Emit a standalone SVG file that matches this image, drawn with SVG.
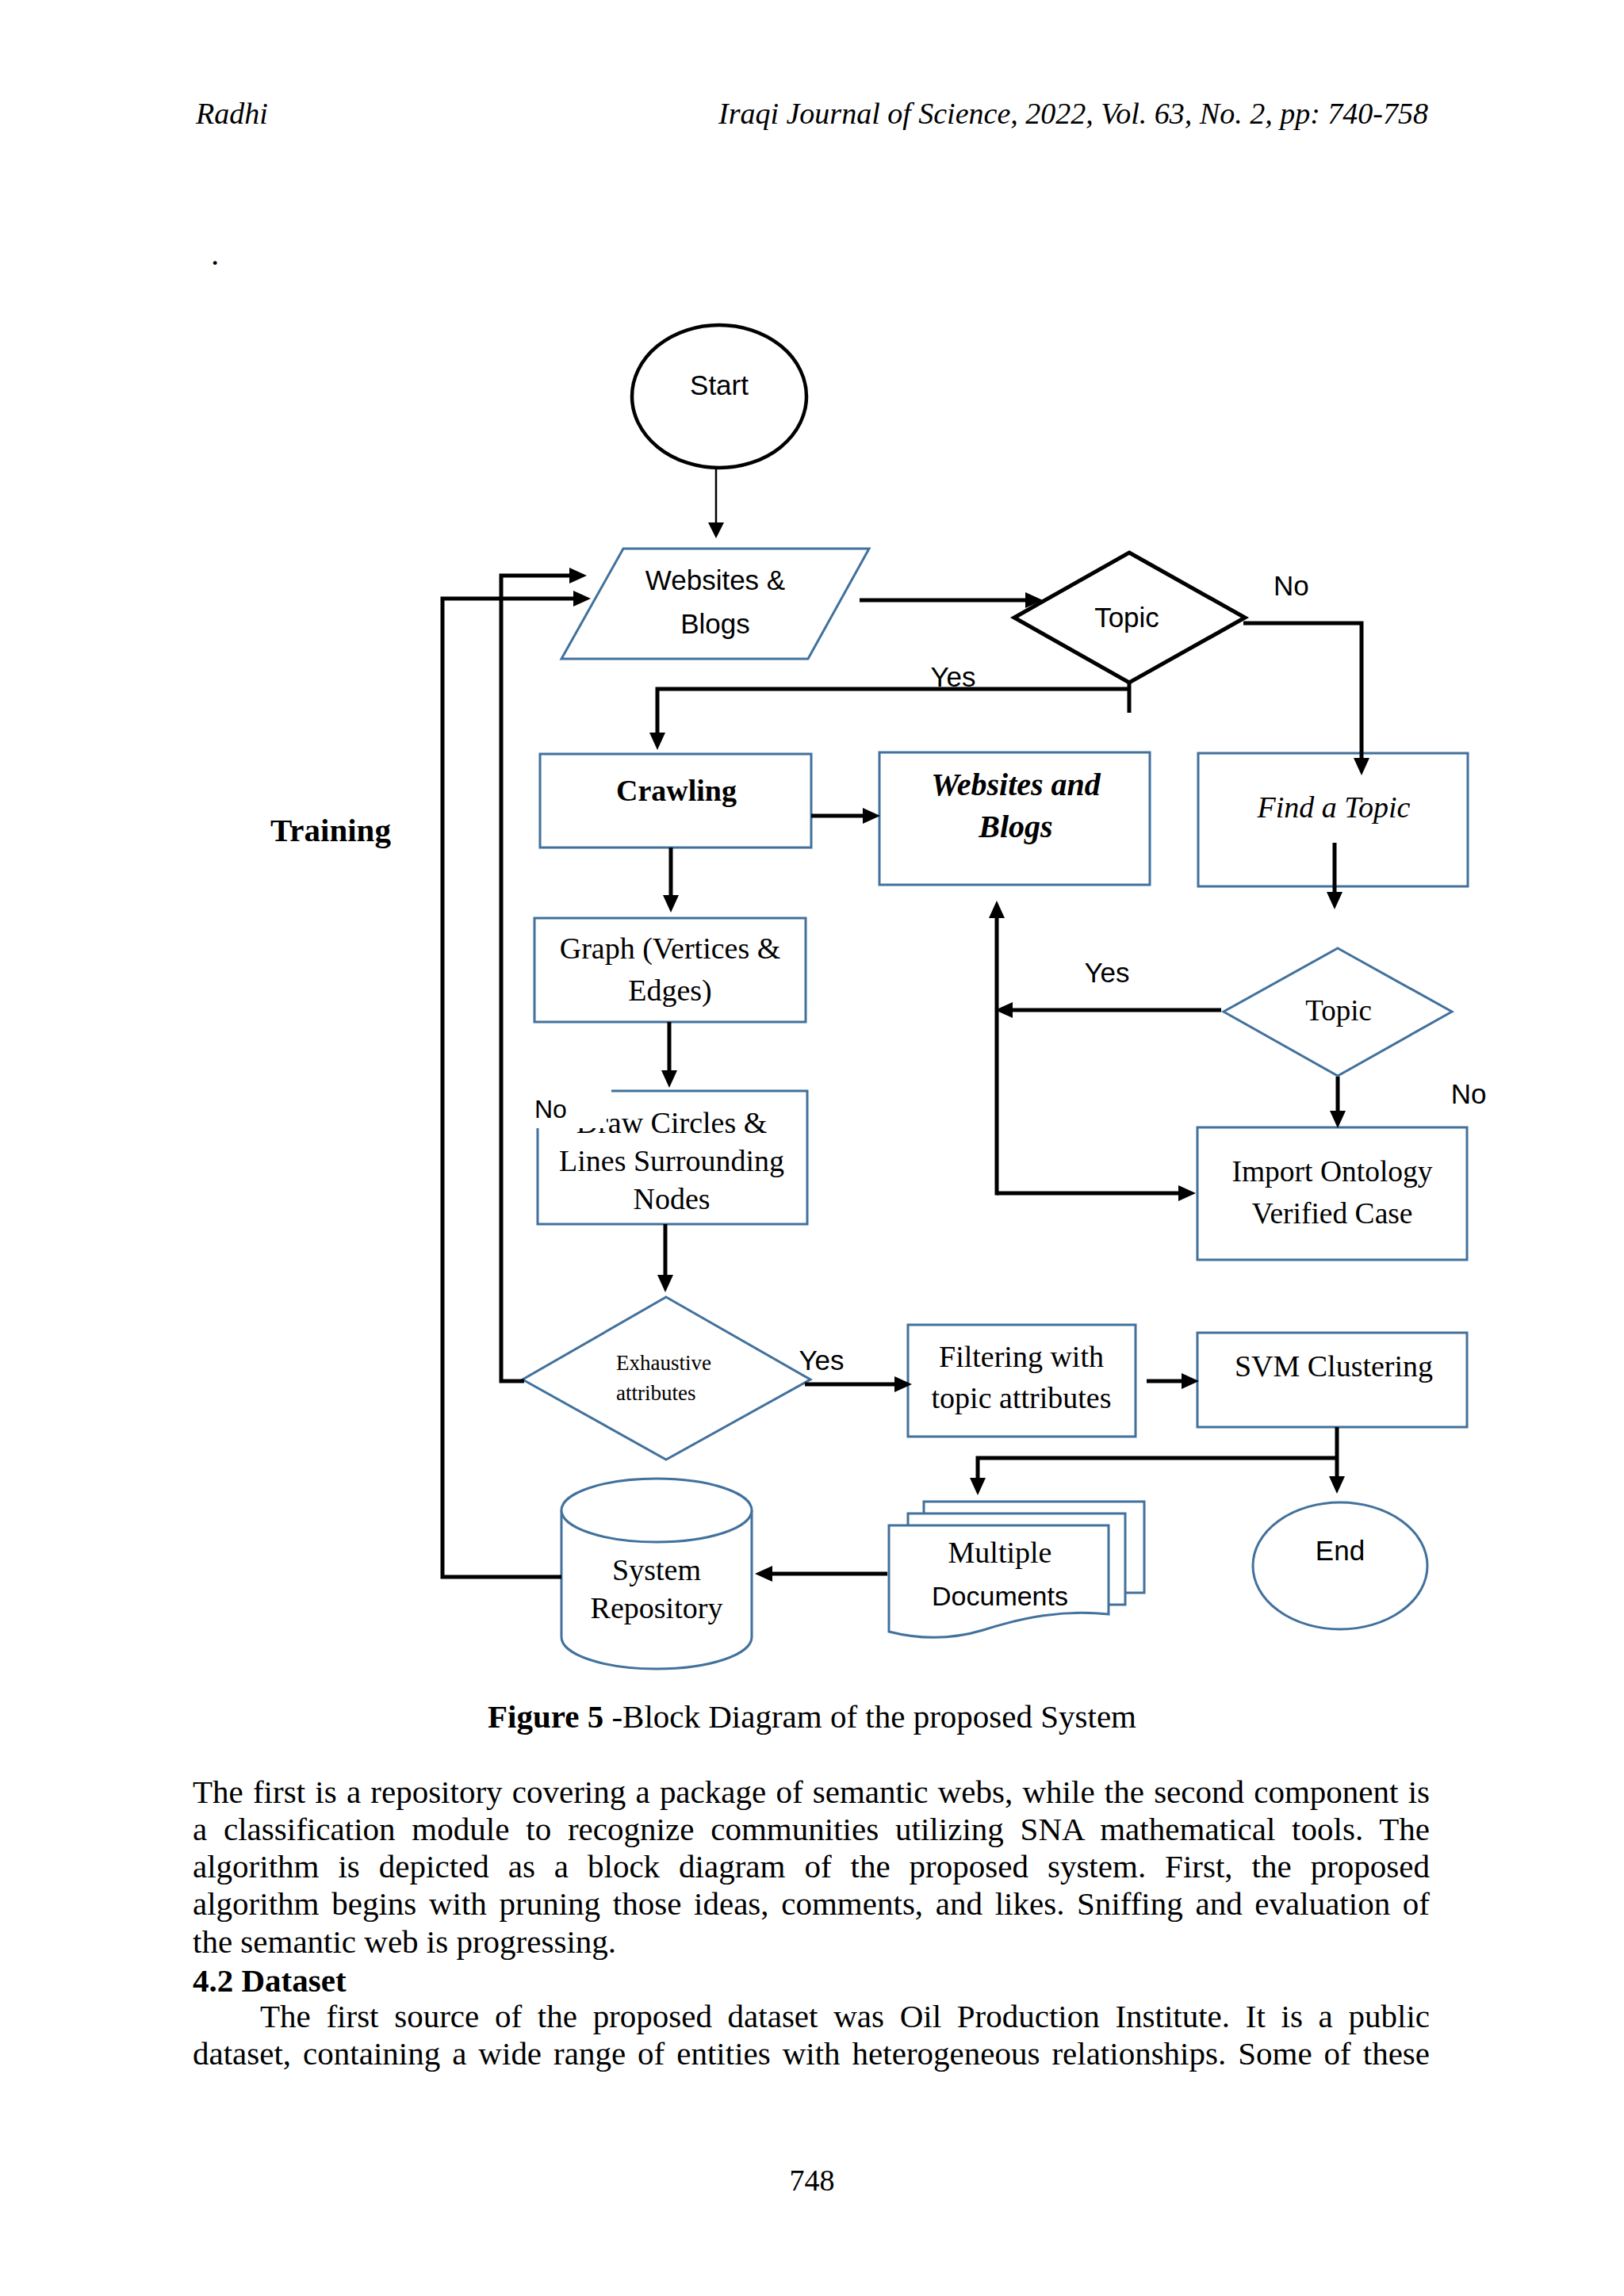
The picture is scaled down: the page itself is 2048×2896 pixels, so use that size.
<svg xmlns="http://www.w3.org/2000/svg" width="2048" height="2896" viewBox="0 0 2048 2896">
<style>
.bg{fill:#ffffff}
.bl{fill:#ffffff;stroke:#41719c;stroke-width:3}
.bk{fill:#ffffff;stroke:#000000;stroke-width:5}
.cn{fill:none;stroke:#000000;stroke-width:5}
.cs{fill:none;stroke:#000000;stroke-width:2.5}
.sans{font-family:"Liberation Sans",Arial,sans-serif;fill:#000}
.serif{font-family:"Liberation Serif","Times New Roman",serif;fill:#000}
.c{text-anchor:middle}
</style>
<defs>
<marker id="ah" markerUnits="userSpaceOnUse" viewBox="0 0 22 20" markerWidth="22" markerHeight="20" refX="14" refY="10" orient="auto"><path d="M0,0 L22,10 L0,20 Z" fill="#000"/></marker>
<marker id="ahs" markerUnits="userSpaceOnUse" viewBox="0 0 20 20" markerWidth="20" markerHeight="20" refX="16" refY="10" orient="auto"><path d="M0,0 L20,10 L0,20 Z" fill="#000"/></marker>
</defs>
<rect class="bg" x="0" y="0" width="2048" height="2896"/>

<g id="page-header">
<text class="serif" x="247" y="156" font-size="38" font-style="italic">Radhi</text>
<text class="serif" x="1801" y="156" font-size="38" font-style="italic" text-anchor="end">Iraqi Journal of Science, 2022, Vol. 63, No. 2, pp: 740-758</text>
<text class="serif" x="266" y="334" font-size="41">.</text>
</g>

<g id="training-label">
<text class="serif" x="341" y="1061" font-size="41" font-weight="bold">Training</text>
</g>

<g id="start">
<ellipse cx="907" cy="500" rx="110" ry="90" fill="#fff" stroke="#000" stroke-width="4.5"/>
<text class="sans c" x="907" y="498" font-size="35">Start</text>
</g>

<g id="websites-input">
<polygon class="bl" points="786,692 1096,692 1019,831 708,831"/>
<text class="sans c" x="902" y="744" font-size="35">Websites &amp;</text>
<text class="sans c" x="902" y="799" font-size="35">Blogs</text>
</g>

<g id="topic-decision">
<polygon class="bk" points="1424,697 1570,779 1424,861 1279,779"/>
<text class="sans c" x="1421" y="791" font-size="35">Topic</text>
</g>

<g id="crawling">
<rect class="bl" x="681" y="951" width="342" height="118"/>
<text class="serif c" x="853" y="1010" font-size="38" font-weight="bold">Crawling</text>
</g>

<g id="websites-blogs">
<rect class="bl" x="1109" y="949" width="341" height="167"/>
<text class="serif c" x="1281" y="1003" font-size="40" font-weight="bold" font-style="italic">Websites and</text>
<text class="serif c" x="1281" y="1056" font-size="40" font-weight="bold" font-style="italic">Blogs</text>
</g>

<g id="find-topic">
<rect class="bl" x="1511" y="950" width="340" height="168"/>
<text class="serif c" x="1682" y="1031" font-size="38" font-style="italic">Find a Topic</text>
</g>

<g id="graph">
<rect class="bl" x="674" y="1158" width="342" height="131"/>
<text class="serif c" x="845" y="1209" font-size="38">Graph (Vertices &amp;</text>
<text class="serif c" x="845" y="1262" font-size="38">Edges)</text>
</g>

<g id="topic-decision-2">
<polygon class="bl" points="1687,1196 1831,1276 1687,1357 1543,1276"/>
<text class="serif c" x="1688" y="1287" font-size="37">Topic</text>
</g>

<g id="draw-circles">
<rect class="bl" x="678" y="1376" width="340" height="168"/>
<text class="serif c" x="847" y="1429" font-size="38">Draw Circles &amp;</text>
<text class="serif c" x="847" y="1477" font-size="38">Lines Surrounding</text>
<text class="serif c" x="847" y="1525" font-size="38">Nodes</text>
</g>

<g id="import-ontology">
<rect class="bl" x="1510" y="1422" width="340" height="167"/>
<text class="serif c" x="1680" y="1490" font-size="37.5">Import Ontology</text>
<text class="serif c" x="1680" y="1543" font-size="37.5">Verified Case</text>
</g>

<g id="exhaustive">
<polygon class="bl" points="840,1636 1022,1740 840,1841 659,1740"/>
<text class="serif" x="777" y="1728" font-size="27">Exhaustive</text>
<text class="serif" x="777" y="1766" font-size="27">attributes</text>
</g>

<g id="filtering">
<rect class="bl" x="1145" y="1671" width="287" height="141"/>
<text class="serif c" x="1288" y="1724" font-size="38">Filtering with</text>
<text class="serif c" x="1288" y="1776" font-size="38">topic attributes</text>
</g>

<g id="svm">
<rect class="bl" x="1510" y="1681" width="340" height="119"/>
<text class="serif c" x="1682" y="1736" font-size="38">SVM Clustering</text>
</g>

<g id="repository">
<path class="bl" d="M708,1905 V2065 A120,40 0 0 0 948,2065 V1905"/>
<ellipse class="bl" cx="828" cy="1905" rx="120" ry="40"/>
<text class="serif c" x="828" y="1993" font-size="38">System</text>
<text class="serif c" x="828" y="2041" font-size="38">Repository</text>
</g>

<g id="multiple-documents">
<rect class="bl" x="1165" y="1894" width="278" height="115"/>
<rect class="bl" x="1145" y="1909" width="274" height="115"/>
<path class="bl" d="M1121,1924 H1398 V2036 C1340,2030 1290,2040 1240,2056 C1200,2068 1160,2068 1121,2058 Z"/>
<text class="serif c" x="1261" y="1971" font-size="38">Multiple</text>
<text class="sans c" x="1261" y="2025" font-size="34">Documents</text>
</g>

<g id="end">
<ellipse class="bl" cx="1690" cy="1975" rx="110" ry="80"/>
<text class="sans c" x="1690" y="1968" font-size="35">End</text>
</g>

<g id="connectors">
<path class="cs" d="M903,591 V675" marker-end="url(#ahs)"/>
<path class="cn" d="M1084,757 H1307" marker-end="url(#ah)"/>
<path class="cn" d="M1568,786 H1717 V970" marker-end="url(#ah)"/>
<path class="cn" d="M1424,860 V899"/>
<path class="cn" d="M1424,869 H829 V938" marker-end="url(#ah)"/>
<path class="cn" d="M1023,1029 H1102" marker-end="url(#ah)"/>
<path class="cn" d="M846,1069 V1143" marker-end="url(#ah)"/>
<path class="cn" d="M844,1289 V1364" marker-end="url(#ah)"/>
<path class="cn" d="M839,1544 V1622" marker-end="url(#ah)"/>
<path class="cn" d="M661,1742 H632 V726 H732" marker-end="url(#ah)"/>
<path class="cn" d="M708,1989 H558 V755 H737" marker-end="url(#ah)"/>
<path class="cn" d="M1015,1746 H1142" marker-end="url(#ah)"/>
<path class="cn" d="M1446,1742 H1504" marker-end="url(#ah)"/>
<path class="cn" d="M1686,1800 V1876" marker-end="url(#ah)"/>
<path class="cn" d="M1686,1839 H1233 V1878" marker-end="url(#ah)"/>
<path class="cn" d="M1119,1985 H960" marker-end="url(#ah)"/>
<path class="cn" d="M1683,1063 V1139" marker-end="url(#ah)"/>
<path class="cn" d="M1540,1274 H1263" marker-end="url(#ah)"/>
<path class="cn" d="M1257,1507.5 V1144" marker-end="url(#ah)"/>
<path class="cn" d="M1257,1505 H1500" marker-end="url(#ah)"/>
<path class="cn" d="M1687,1358 V1415" marker-end="url(#ah)"/>
</g>

<g id="connector-labels">
<text class="sans" x="1606" y="751" font-size="35">No</text>
<text class="sans c" x="1202" y="866" font-size="35">Yes</text>
<text class="sans c" x="1396" y="1239" font-size="35">Yes</text>
<text class="sans c" x="1852" y="1392" font-size="35">No</text>
<text class="sans c" x="1036" y="1728" font-size="35">Yes</text>
<path class="bg" d="M670,1365 H771 V1381 H765 V1423 H670 Z"/>
<text class="sans" x="674" y="1410" font-size="32">No</text>
</g>

<g id="caption">
<text class="serif" x="615" y="2179" font-size="41"><tspan font-weight="bold">Figure 5</tspan> -Block Diagram of the proposed System</text>
</g>

<g id="body-text">
<text class="serif" x="243" y="2274" font-size="41" word-spacing="2" textLength="1560" lengthAdjust="spacing">The first is a repository covering a package of semantic webs, while the second component is</text>
<text class="serif" x="243" y="2321" font-size="41" word-spacing="10.5" textLength="1560" lengthAdjust="spacing">a classification module to recognize communities utilizing SNA mathematical tools. The</text>
<text class="serif" x="243" y="2368" font-size="41" word-spacing="13.7" textLength="1560" lengthAdjust="spacing">algorithm is depicted as a block diagram of the proposed system. First, the proposed</text>
<text class="serif" x="243" y="2415" font-size="41" word-spacing="5.4" textLength="1560" lengthAdjust="spacing">algorithm begins with pruning those ideas, comments, and likes. Sniffing and evaluation of</text>
<text class="serif" x="243" y="2463" font-size="41">the semantic web is progressing.</text>
<text class="serif" x="243" y="2512" font-size="41" font-weight="bold">4.2 Dataset</text>
<text class="serif" x="328" y="2557" font-size="41" word-spacing="9.5" textLength="1475" lengthAdjust="spacing">The first source of the proposed dataset was Oil Production Institute. It is a public</text>
<text class="serif" x="243" y="2604" font-size="41" word-spacing="4.75" textLength="1560" lengthAdjust="spacing">dataset, containing a wide range of entities with heterogeneous relationships. Some of these</text>
<text class="serif c" x="1024" y="2763" font-size="38">748</text>
</g>
</svg>
